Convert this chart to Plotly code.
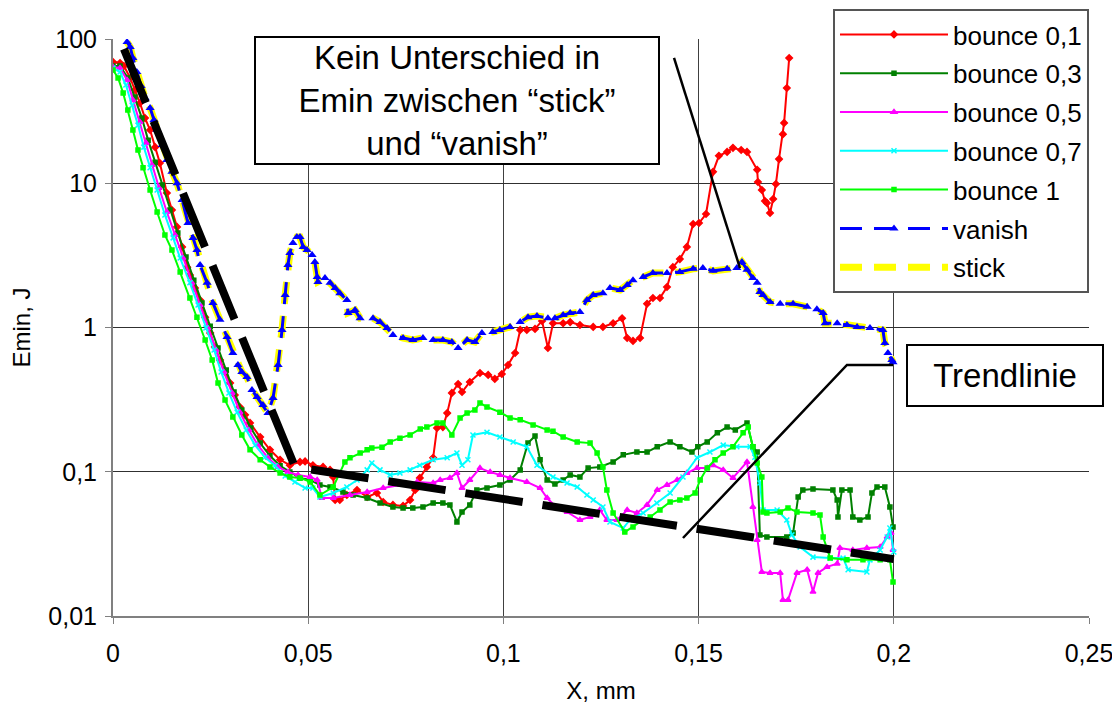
import plotly.graph_objects as go

# ---------------- data (x in mm, Emin in J) ----------------
bounce_01 = [
    (0, 69.3), (0.0018, 68.2), (0.0028, 65.0), (0.0044, 53.7), (0.0056, 44.3), (0.0069, 36.0),
    (0.0082, 28.3), (0.0095, 23.4), (0.0108, 17.8), (0.0120, 13.8), (0.0138, 8.55), (0.0151, 6.53),
    (0.0164, 4.98), (0.0177, 3.62), (0.0190, 2.62), (0.0197, 2.31), (0.0210, 1.88), (0.0223, 1.55),
    (0.0236, 1.18), (0.0249, 0.916), (0.0261, 0.733), (0.0274, 0.596), (0.0287, 0.492), (0.0300, 0.412),
    (0.0312, 0.340), (0.0325, 0.281), (0.0338, 0.248), (0.0351, 0.218), (0.0377, 0.174), (0.0402, 0.142),
    (0.0428, 0.121), (0.0453, 0.111), (0.0479, 0.117), (0.0492, 0.118), (0.0512, 0.111), (0.0538, 0.108),
    (0.0556, 0.103), (0.0564, 0.092), (0.0569, 0.0637), (0.0581, 0.0637), (0.0599, 0.069), (0.0625, 0.0748),
    (0.0651, 0.0668), (0.0676, 0.0713), (0.0692, 0.0617), (0.0717, 0.0589), (0.0743, 0.058), (0.0761, 0.0637),
    (0.0774, 0.0748), (0.0786, 0.0906), (0.0804, 0.108), (0.0820, 0.125), (0.0830, 0.201), (0.0845, 0.204),
    (0.0856, 0.255), (0.0868, 0.352), (0.0884, 0.406), (0.0894, 0.357), (0.0914, 0.419), (0.0940, 0.484),
    (0.0961, 0.469), (0.0978, 0.440), (0.0996, 0.476), (0.1012, 0.550), (0.1030, 0.665), (0.1043, 0.962),
    (0.1060, 0.962), (0.1081, 0.978), (0.1099, 1.11), (0.1114, 0.721), (0.1127, 1.07), (0.1153, 1.07),
    (0.1171, 1.09), (0.1196, 1.04), (0.1230, 1.01), (0.1255, 1.01), (0.1281, 1.07), (0.1304, 1.16),
    (0.1317, 0.846), (0.1332, 0.807), (0.1350, 0.846), (0.1368, 1.46), (0.1383, 1.60), (0.1401, 1.60),
    (0.1419, 1.91), (0.1434, 2.62), (0.1452, 2.98), (0.1470, 3.62), (0.1486, 5.22), (0.1501, 5.3),
    (0.1519, 6.12), (0.1537, 12.0), (0.1552, 15.5), (0.1573, 16.5), (0.1588, 17.6), (0.1609, 17.0),
    (0.1624, 16.5), (0.1650, 12.4), (0.1652, 10.2), (0.1662, 8.98), (0.1670, 7.53), (0.1675, 7.3),
    (0.1683, 6.22), (0.1691, 7.78), (0.1698, 9.89), (0.1706, 14.7), (0.1716, 21.9), (0.1719, 26.2),
    (0.1726, 45.7), (0.1732, 73.8),
]

bounce_03 = [
    (0, 65.0), (0.0018, 65.0), (0.0038, 53.7), (0.0056, 39.6), (0.0074, 28.3), (0.0090, 19.9),
    (0.0108, 14.0), (0.0126, 9.72), (0.0146, 6.53), (0.0166, 4.52), (0.0187, 3.08), (0.0207, 2.13),
    (0.0228, 1.48), (0.0249, 1.02), (0.0269, 0.721), (0.0290, 0.507), (0.0310, 0.357), (0.0330, 0.268),
    (0.0353, 0.201), (0.0377, 0.158), (0.0402, 0.129), (0.0428, 0.110), (0.0453, 0.0995), (0.0479, 0.0906),
    (0.0505, 0.0877), (0.0530, 0.0810), (0.0556, 0.0784), (0.0589, 0.0725), (0.0615, 0.0690), (0.0651, 0.0657),
    (0.0684, 0.0607), (0.0717, 0.0570), (0.0743, 0.0561), (0.0768, 0.0561), (0.0794, 0.0570), (0.0820, 0.0607),
    (0.0845, 0.0607), (0.0863, 0.0589), (0.0881, 0.0449), (0.0894, 0.0526), (0.0914, 0.0589), (0.0932, 0.0748),
    (0.0958, 0.0771), (0.0991, 0.0810), (0.1017, 0.0877), (0.1043, 0.103), (0.1063, 0.158), (0.1081, 0.177),
    (0.1094, 0.121), (0.1112, 0.0877), (0.1132, 0.0823), (0.1153, 0.0877), (0.1171, 0.0951), (0.1196, 0.092),
    (0.1217, 0.106), (0.1247, 0.108), (0.1281, 0.117), (0.1307, 0.131), (0.1342, 0.137), (0.1368, 0.137),
    (0.1394, 0.149), (0.1427, 0.161), (0.1452, 0.149), (0.1483, 0.137), (0.1498, 0.149), (0.1522, 0.161),
    (0.1548, 0.186), (0.1573, 0.204), (0.1594, 0.195), (0.1624, 0.218), (0.1639, 0.149), (0.1650, 0.137),
    (0.1657, 0.0365), (0.1675, 0.0353), (0.1726, 0.0353), (0.1742, 0.0376), (0.1755, 0.0668), (0.1767, 0.0748),
    (0.1793, 0.0760), (0.1844, 0.0748), (0.1855, 0.0637), (0.1857, 0.0486), (0.1867, 0.0748), (0.1888, 0.0748),
    (0.1895, 0.0486), (0.1913, 0.0463), (0.1934, 0.0486), (0.1944, 0.0713), (0.1957, 0.0784), (0.1977, 0.0784),
    (0.1990, 0.0570), (0.1998, 0.0414),
]

bounce_05 = [
    (0, 64.0), (0.0018, 62.9), (0.0036, 52.0), (0.0051, 37.8), (0.0069, 26.6), (0.0085, 19.0),
    (0.0100, 13.4), (0.0118, 9.27), (0.0138, 6.32), (0.0159, 4.38), (0.0179, 3.03), (0.0202, 2.04),
    (0.0223, 1.43), (0.0243, 0.993), (0.0264, 0.698), (0.0284, 0.492), (0.0305, 0.352), (0.0325, 0.259),
    (0.0348, 0.195), (0.0371, 0.153), (0.0397, 0.125), (0.0423, 0.108), (0.0448, 0.0995), (0.0474, 0.0951),
    (0.0505, 0.092), (0.0523, 0.0877), (0.0535, 0.0657), (0.0564, 0.0657), (0.0607, 0.0690), (0.0651, 0.0725),
    (0.0692, 0.0771), (0.0735, 0.0810), (0.0779, 0.0850), (0.0820, 0.0836), (0.0838, 0.0877), (0.0863, 0.0906),
    (0.0881, 0.098), (0.0894, 0.0771), (0.0914, 0.0877), (0.0940, 0.106), (0.0966, 0.0995), (0.0991, 0.0951),
    (0.1017, 0.0906), (0.1060, 0.0850), (0.1094, 0.0771), (0.1112, 0.0657), (0.1137, 0.0561), (0.1163, 0.0526),
    (0.1196, 0.0463), (0.1222, 0.0486), (0.1247, 0.0543), (0.1265, 0.0463), (0.1291, 0.0463), (0.1317, 0.0543),
    (0.1342, 0.0518), (0.1368, 0.0589), (0.1394, 0.0748), (0.1419, 0.0810), (0.1445, 0.0877), (0.1470, 0.098),
    (0.1496, 0.106), (0.1522, 0.106), (0.1537, 0.111), (0.1563, 0.103), (0.1588, 0.0906), (0.1624, 0.117),
    (0.1639, 0.0570), (0.1650, 0.0336), (0.1662, 0.0202), (0.1683, 0.0199), (0.1709, 0.0199), (0.1716, 0.0129),
    (0.1729, 0.0129), (0.1752, 0.0199), (0.1778, 0.0209), (0.1793, 0.0147), (0.1806, 0.0199), (0.1829, 0.0219),
    (0.1855, 0.0230), (0.1862, 0.0296), (0.1895, 0.0287), (0.1931, 0.0296), (0.1965, 0.0301), (0.1983, 0.0353),
    (0.1993, 0.0376), (0.1998, 0.0287),
]

bounce_07 = [
    (0, 62.9), (0.0018, 59.0), (0.0033, 48.0), (0.0049, 34.8), (0.0064, 25.3), (0.0079, 17.8),
    (0.0095, 12.8), (0.0113, 8.98), (0.0133, 6.03), (0.0154, 4.18), (0.0172, 3.03), (0.0197, 2.04),
    (0.0218, 1.43), (0.0238, 0.993), (0.0259, 0.698), (0.0277, 0.492), (0.0297, 0.352), (0.0318, 0.259),
    (0.0341, 0.195), (0.0364, 0.153), (0.0389, 0.126), (0.0415, 0.110), (0.0441, 0.0935), (0.0466, 0.0850),
    (0.0492, 0.0771), (0.0512, 0.0771), (0.0530, 0.0668), (0.0564, 0.0713), (0.0599, 0.0784), (0.0625, 0.0877),
    (0.0651, 0.103), (0.0663, 0.115), (0.0684, 0.103), (0.0710, 0.0951), (0.0735, 0.098), (0.0761, 0.103),
    (0.0786, 0.111), (0.0820, 0.121), (0.0856, 0.125), (0.0881, 0.135), (0.0894, 0.111), (0.0909, 0.121),
    (0.0922, 0.180), (0.0958, 0.188), (0.0991, 0.174), (0.1025, 0.161), (0.1060, 0.149), (0.1086, 0.111),
    (0.1127, 0.092), (0.1163, 0.0836), (0.1189, 0.0784), (0.1214, 0.0690), (0.1230, 0.0637), (0.1255, 0.0570),
    (0.1273, 0.0449), (0.1307, 0.0407), (0.1324, 0.0463), (0.1358, 0.0518), (0.1393, 0.0607), (0.1427, 0.0713),
    (0.1460, 0.092), (0.1496, 0.125), (0.1529, 0.137), (0.1563, 0.153), (0.1598, 0.149), (0.1632, 0.149),
    (0.1644, 0.126), (0.1657, 0.0836), (0.1665, 0.0543), (0.1701, 0.0543), (0.1726, 0.0463), (0.1739, 0.0365),
    (0.1760, 0.0301), (0.1793, 0.0256), (0.1837, 0.0252), (0.1870, 0.0252), (0.1883, 0.0209), (0.1931, 0.0202),
    (0.1939, 0.0245), (0.1965, 0.0287), (0.1983, 0.0353), (0.1990, 0.0407), (0.2000, 0.0278),
]

bounce_1 = [
    (0, 61.0), (0.0013, 53.7), (0.0026, 42.2), (0.0038, 32.2), (0.0051, 23.4), (0.0064, 17.0),
    (0.0077, 12.8), (0.0095, 8.98), (0.0113, 6.32), (0.0133, 4.38), (0.0151, 3.44), (0.0172, 2.43),
    (0.0197, 1.60), (0.0215, 1.18), (0.0236, 0.819), (0.0254, 0.596), (0.0269, 0.412), (0.0287, 0.314),
    (0.0307, 0.240), (0.0330, 0.180), (0.0351, 0.142), (0.0377, 0.121), (0.0402, 0.108), (0.0428, 0.098),
    (0.0453, 0.092), (0.0479, 0.0906), (0.0505, 0.0850), (0.0530, 0.0690), (0.0564, 0.0784), (0.0594, 0.117),
    (0.0607, 0.125), (0.0633, 0.135), (0.0651, 0.142), (0.0663, 0.146), (0.0689, 0.148), (0.0710, 0.161),
    (0.0735, 0.171), (0.0761, 0.180), (0.0787, 0.198), (0.0804, 0.204), (0.0830, 0.218), (0.0845, 0.218),
    (0.0868, 0.180), (0.0889, 0.236), (0.0907, 0.255), (0.0927, 0.268), (0.0940, 0.300), (0.0958, 0.281),
    (0.0991, 0.259), (0.1017, 0.236), (0.1043, 0.229), (0.1076, 0.211), (0.1112, 0.195), (0.1127, 0.191),
    (0.1153, 0.174), (0.1189, 0.161), (0.1222, 0.158), (0.1240, 0.135), (0.1255, 0.108), (0.1265, 0.0748),
    (0.1281, 0.0518), (0.1311, 0.0382), (0.1332, 0.0414), (0.1358, 0.0463), (0.1376, 0.0486), (0.1401, 0.0543),
    (0.1427, 0.0617), (0.1452, 0.0637), (0.1470, 0.0657), (0.1491, 0.0713), (0.1504, 0.0877), (0.1522, 0.106),
    (0.1542, 0.121), (0.1563, 0.135), (0.1588, 0.149), (0.1614, 0.186), (0.1627, 0.204), (0.1639, 0.149),
    (0.1650, 0.115), (0.1662, 0.092), (0.1665, 0.0526), (0.1675, 0.0518), (0.1709, 0.0526), (0.1729, 0.0561),
    (0.1752, 0.0526), (0.1793, 0.0518), (0.1811, 0.0501), (0.1819, 0.0353), (0.1837, 0.0252), (0.1880, 0.0245),
    (0.1921, 0.0245), (0.1965, 0.0245), (0.1990, 0.0245), (0.1998, 0.0172),
]

vanish = [
    (0.0036, 95.3), (0.0044, 88.0), (0.0051, 73.8), (0.0061, 59.0), (0.0072, 47.2), (0.0082, 39.0),
    (0.0095, 33.3), (0.0105, 27.5), (0.0113, 23.4), (0.0126, 18.4), (0.0138, 14.5), (0.0151, 12.0),
    (0.0164, 10.0), (0.0177, 7.66), (0.0192, 5.31), (0.0205, 4.18), (0.0215, 3.45), (0.0223, 2.71),
    (0.0241, 2.04), (0.0256, 1.48), (0.0274, 1.13), (0.0292, 0.859), (0.0307, 0.665), (0.0320, 0.550),
    (0.0330, 0.492), (0.0343, 0.454), (0.0356, 0.369), (0.0369, 0.330), (0.0384, 0.290), (0.0397, 0.255),
    (0.0410, 0.325), (0.0423, 0.550), (0.0433, 0.962), (0.0441, 1.68), (0.0448, 2.71), (0.0453, 3.29),
    (0.0461, 3.86), (0.0471, 4.24), (0.0479, 4.24), (0.0487, 3.62), (0.0497, 3.45), (0.0510, 3.18),
    (0.0517, 2.85), (0.0523, 2.24), (0.0525, 2.07), (0.0543, 2.20), (0.0556, 2.04), (0.0569, 1.88),
    (0.0581, 1.73), (0.0599, 1.55), (0.0602, 1.26), (0.0620, 1.32), (0.0633, 1.16), (0.0666, 1.16),
    (0.0684, 1.09), (0.0702, 0.993), (0.0717, 0.888), (0.0743, 0.846), (0.0768, 0.819), (0.0794, 0.846),
    (0.0820, 0.819), (0.0845, 0.819), (0.0868, 0.794), (0.0884, 0.721), (0.0907, 0.819), (0.0927, 0.794),
    (0.0945, 0.916), (0.0973, 0.931), (0.0991, 0.962), (0.1017, 1.01), (0.1043, 1.09), (0.1063, 1.18),
    (0.1086, 1.20), (0.1114, 1.16), (0.1132, 1.16), (0.1153, 1.22), (0.1171, 1.26), (0.1196, 1.28),
    (0.1214, 1.55), (0.1230, 1.68), (0.1255, 1.73), (0.1273, 1.88), (0.1299, 1.82), (0.1317, 1.97),
    (0.1332, 2.13), (0.1358, 2.24), (0.1383, 2.39), (0.1419, 2.39), (0.1452, 2.43), (0.1486, 2.55),
    (0.1511, 2.59), (0.1537, 2.47), (0.1573, 2.55), (0.1598, 2.59), (0.1611, 2.85), (0.1624, 2.51),
    (0.1639, 2.20), (0.1650, 2.04), (0.1657, 1.76), (0.1665, 1.68), (0.1683, 1.50), (0.1709, 1.46),
    (0.1742, 1.46), (0.1778, 1.39), (0.1803, 1.34), (0.1819, 1.26), (0.1824, 1.07), (0.1855, 1.07),
    (0.1880, 1.04), (0.1906, 1.01), (0.1939, 0.993), (0.1972, 0.962), (0.1977, 0.782), (0.1985, 0.665),
    (0.1995, 0.596), (0.1998, 0.575),
]

stick = list(vanish)

trendline = [(0.0028, 85.3), (0.0466, 0.108), (0.2, 0.0248)]

x_ticks = [0, 0.05, 0.1, 0.15, 0.2, 0.25]
x_tick_text = ["0", "0,05", "0,1", "0,15", "0,2", "0,25"]
y_ticks = [0.01, 0.1, 1, 10, 100]
y_tick_text = ["0,01", "0,1", "1", "10", "100"]

FONT = "Liberation Sans, Arial, sans-serif"


def xs(series):
    return [p[0] for p in series]


def ys(series):
    return [p[1] for p in series]


fig = go.Figure()

bounce_styles = [
    ("bounce 0,1", bounce_01, "#FF0000", "diamond", 5),
    ("bounce 0,3", bounce_03, "#008000", "square", 4),
    ("bounce 0,5", bounce_05, "#FF00FF", "triangle-up", 5),
    ("bounce 0,7", bounce_07, "#00FFFF", "x-thin-open", 5),
    ("bounce 1", bounce_1, "#00FF00", "square", 4),
]
for i, (name, data, color, sym, size) in enumerate(bounce_styles):
    fig.add_trace(go.Scatter(
        x=xs(data), y=ys(data), name=name, mode="lines+markers",
        line=dict(color=color, width=2),
        marker=dict(color=color, symbol=sym, size=size, line=dict(color=color, width=1.5)),
        legendrank=i + 1, legendgroup=name,
    ))

fig.add_trace(go.Scatter(
    x=xs(stick), y=ys(stick), name="stick", mode="lines",
    line=dict(color="#FFFF00", width=7, dash="22px,12px"),
    legendrank=7, legendgroup="stick",
))
fig.add_trace(go.Scatter(
    x=xs(vanish), y=ys(vanish), name="vanish", mode="lines+markers",
    line=dict(color="#0000FF", width=3, dash="22px,12px"),
    marker=dict(color="#0000FF", symbol="triangle-up", size=8),
    legendrank=6, legendgroup="vanish",
))
fig.add_trace(go.Scatter(
    x=xs(trendline), y=ys(trendline), name="Trendlinie", mode="lines",
    line=dict(color="#000000", width=8, dash="58px,20px"),
    showlegend=False,
))

fig.update_layout(
    width=1112, height=702,
    margin=dict(l=105, r=31, t=31, b=94, autoexpand=False),
    paper_bgcolor="white", plot_bgcolor="white",
    font=dict(family=FONT, color="black", size=24),
    showlegend=True,
    legend=dict(
        x=0.7377, y=1.052, xanchor="left", yanchor="top",
        bgcolor="white", bordercolor="#555555", borderwidth=2,
        font=dict(family=FONT, size=26, color="black"),
        itemwidth=108, tracegroupgap=2, traceorder="grouped",
    ),
    xaxis=dict(
        range=[0, 0.25], tickvals=x_ticks, ticktext=x_tick_text,
        showgrid=True, gridcolor="#404040", gridwidth=1,
        showline=True, linecolor="#808080", linewidth=2,
        ticks="outside", ticklen=6, tickcolor="#808080",
        tickfont=dict(size=25), zeroline=False, automargin=False,
        ticklabelstandoff=8,
        title=dict(text="X, mm", font=dict(size=24), standoff=16),
    ),
    yaxis=dict(
        type="log", range=[-2, 2], tickvals=y_ticks, ticktext=y_tick_text,
        showgrid=True, gridcolor="#303030", gridwidth=1,
        showline=True, linecolor="#808080", linewidth=2,
        ticks="outside", ticklen=6, tickcolor="#808080",
        tickfont=dict(size=25), zeroline=False, automargin=False,
        ticklabelstandoff=3,
        title=dict(text="Emin, J", font=dict(size=24), standoff=14),
    ),
    annotations=[
        dict(
            text="Kein Unterschied in<br>Emin zwischen “stick”<br>und “vanish”",
            xref="paper", yref="paper", x=0.1445, y=1.005, xanchor="left", yanchor="top",
            showarrow=False, align="center", width=400,
            bgcolor="white", bordercolor="black", borderwidth=2, borderpad=1,
            font=dict(family=FONT, size=33, color="black"),
        ),
        dict(
            text="Trendlinie",
            xref="paper", yref="paper", x=0.8125, y=0.4714, xanchor="left", yanchor="top",
            showarrow=False, align="center", width=172,
            bgcolor="white", bordercolor="black", borderwidth=2, borderpad=11,
            font=dict(family=FONT, size=33, color="black"),
        ),
    ],
    shapes=[
        dict(type="line", xref="paper", yref="paper",
             x0=0.5748, y0=0.9671, x1=0.6424, y1=0.6031,
             line=dict(color="black", width=2.5)),
        dict(type="path", xref="paper", yref="paper",
             path="M 0.5840 0.1352 L 0.7520 0.4350 L 0.7992 0.4350",
             line=dict(color="black", width=2.5)),
    ],
)

fig.write_html("out.html")
